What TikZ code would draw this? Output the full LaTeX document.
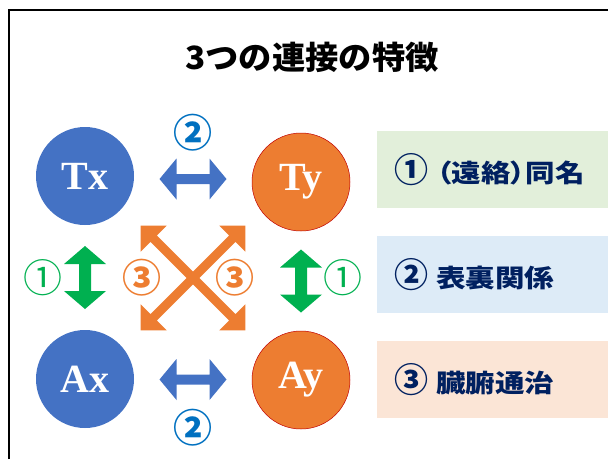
\documentclass[tikz,border=0pt]{standalone}
\usepackage{fontspec}
\usepackage{graphicx}
\setmainfont{Liberation Serif}
\newfontfamily\cjk{Noto Sans CJK JP}
\newfontfamily\cjkp{Noto Sans CJK JP}[RawFeature=+palt]
\usetikzlibrary{calc}
\definecolor{cblue}{HTML}{4472C4}
\definecolor{corange}{HTML}{ED7D31}
\definecolor{cred}{HTML}{C00000}
\definecolor{cgreen}{HTML}{00B050}
\definecolor{lblue}{HTML}{0070C0}
\definecolor{navy}{HTML}{002060}
\definecolor{bgreen}{HTML}{E2EFDA}
\definecolor{bblue}{HTML}{DDEBF7}
\definecolor{bpeach}{HTML}{FBE5D6}
% center, angle, length, head length, head half-width, shaft half-width, colour
\newcommand\blockarrow[7]{%
  \fill[#7, shift={(#1)}, rotate=#2]
    ({-#3/2},0) -- ({-#3/2+#4},#5) -- ({-#3/2+#4},#6) -- ({#3/2-#4},#6) --
    ({#3/2-#4},#5) -- ({#3/2},0) -- ({#3/2-#4},{-#5}) -- ({#3/2-#4},{-#6}) --
    ({-#3/2+#4},{-#6}) -- ({-#3/2+#4},{-#5}) -- cycle;}
\newcommand\bignum[1]{{\fontsize{34}{30}\selectfont #1}}
\newcommand\wide[1]{\scalebox{1.18}[1]{#1}}
\tikzset{
  ball/.style={circle, minimum size=98pt, inner sep=0pt, text=white,
    font=\fontsize{40}{40}\selectfont\bfseries},
  bluball/.style={ball, fill=cblue},
  orgball/.style={ball, fill=corange, draw=cred, line width=0.5pt},
  numlabel/.style={font=\cjk\fontsize{39}{40}\selectfont, inner sep=0pt},
  infobox/.style={minimum width=231pt, minimum height=77pt, inner sep=0pt},
  infotext/.style={anchor=west, text=navy, inner sep=0pt,
    font=\cjkp\bfseries\fontsize{25}{30}\selectfont},
}
\begin{document}
\begin{tikzpicture}[x=1pt,y=-1pt]
\useasboundingbox (0,0) rectangle (608,459);
\draw[line width=2pt] (9,459) -- (9,10) -- (608,10);
\node[font=\cjk\bfseries\fontsize{32}{34}\selectfont] (title) at (312,57)
  {\scalebox{1.04}[1]{3つの連接の特徴}};
% circles
\node[bluball] (Tx) at (85,176) {Tx};
\node[orgball] (Ty) at (301,182) {Ty};
\node[bluball] (Ax) at (85,379) {Ax};
\node[orgball] (Ay) at (301,380) {Ay};
% midpoints
\coordinate (mT) at ($(Tx)!0.5!(Ty)$);
\coordinate (mA) at ($(Ax)!0.5!(Ay)$);
\coordinate (mL) at ($(Tx)!0.5!(Ax)$);
\coordinate (mR) at ($(Ty)!0.5!(Ay)$);
\coordinate (mX) at ($(Tx)!0.5!(Ay)$);
% arrows
\blockarrow{mT}{0}{67}{17}{20.5}{5}{cblue}
\blockarrow{mA}{0}{67}{17}{20.5}{5}{cblue}
\blockarrow{mL}{90}{63}{18}{21}{6}{cgreen}
\blockarrow{mR}{90}{63}{18}{21}{6}{cgreen}
\blockarrow{mX}{45}{148}{18.4}{18.4}{4.5}{corange}
\blockarrow{mX}{-45}{148}{18.4}{18.4}{4.5}{corange}
% labels
\node[numlabel, text=lblue, font=\cjk\bfseries\fontsize{39}{40}\selectfont] (l2t) at (193,133) {②};
\node[numlabel, text=lblue, font=\cjk\bfseries\fontsize{39}{40}\selectfont] (l2b) at (193,428) {②};
\node[numlabel, text=cgreen] (l1l) at (43,278) {①};
\node[numlabel, text=cgreen] (l1r) at (343,278) {①};
\node[numlabel, text=corange, font=\cjk\bfseries\fontsize{39}{40}\selectfont] (l3l) at (142,278) {③};
\node[numlabel, text=corange, font=\cjk\bfseries\fontsize{39}{40}\selectfont] (l3r) at (235,278) {③};
% info boxes
\node[infobox, fill=bgreen, anchor=north west] (b1) at (377,131) {};
\node[infobox, fill=bblue, anchor=north west] (b2) at (377,236) {};
\node[infobox, fill=bpeach, anchor=north west] (b3) at (377,341) {};
\node[infotext] (t1) at ([xshift=17pt]b1.west) {\bignum{①}\hspace{9pt}\wide{（遠絡）同名}};
\node[infotext] (t2) at ([xshift=17pt]b2.west) {\bignum{②}\hspace{8pt}\wide{表裏関係}};
\node[infotext] (t3) at ([xshift=17pt]b3.west) {\bignum{③}\hspace{8pt}\wide{臓腑通治}};
\end{tikzpicture}
\end{document}
